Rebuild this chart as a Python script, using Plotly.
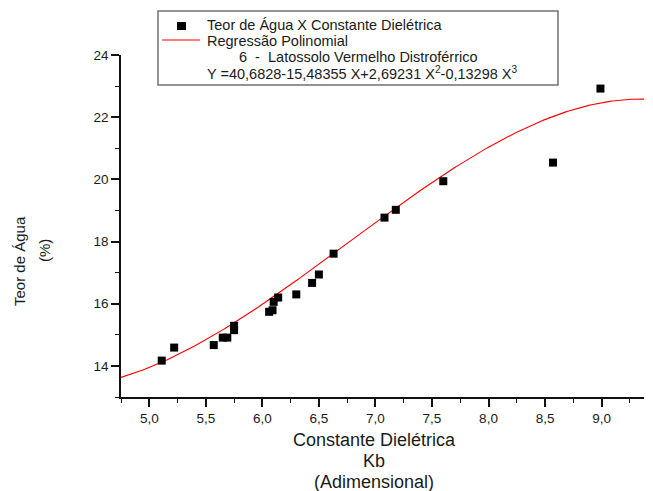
import numpy as np
import plotly.graph_objects as go

# Measured points: dielectric constant Kb vs water content (%)
kb = [5.11, 5.22, 5.57, 5.65, 5.69, 5.75, 5.75, 6.06, 6.09, 6.10, 6.14,
      6.30, 6.44, 6.50, 6.63, 7.08, 7.18, 7.60, 8.57, 8.99]
teor = [14.17, 14.59, 14.67, 14.91, 14.91, 15.15, 15.29, 15.74, 15.79, 16.06, 16.20,
        16.30, 16.67, 16.94, 17.61, 18.77, 19.02, 19.94, 20.54, 22.92]

# Polynomial regression coefficients given in the chart (c0 + c1 X + c2 X^2 + c3 X^3)
coef = [40.6828, -15.48355, 2.69231, -0.13298]
fit_range = [4.75, 9.375]

x_range = [4.75, 9.375]
y_range = [13, 24]
x_ticks = [5.0, 5.5, 6.0, 6.5, 7.0, 7.5, 8.0, 8.5, 9.0]
y_ticks = [14, 16, 18, 20, 22, 24]

xf = np.linspace(fit_range[0], fit_range[1], 200)
yf = sum(c * xf ** i for i, c in enumerate(coef))

W, H = 653, 491
L, R, T, B = 121, 644, 55, 397


def px(x):
    return (x - L) / (R - L)


def py(y):
    return (B - y) / (B - T)


FONT = "Liberation Sans, Arial, sans-serif"
TXT = "#1a1a1a"

fig = go.Figure()
fig.add_trace(go.Scatter(x=xf, y=yf, mode="lines",
                         line=dict(color="#ff0000", width=1.1),
                         name="Regressão Polinomial", showlegend=False))
fig.add_trace(go.Scatter(x=kb, y=teor, mode="markers",
                         marker=dict(symbol="square", size=8, color="black",
                                     line=dict(width=0)),
                         name="Teor de Água X Constante Dielétrica", showlegend=False))

axis_common = dict(showgrid=False, zeroline=False, showline=True, linecolor="#111",
                   linewidth=1.6, ticks="outside", ticklen=8, tickwidth=1.6,
                   tickcolor="#111", tickfont=dict(family=FONT, size=13.5, color=TXT),
                   mirror=False)

fig.update_xaxes(range=x_range, tickvals=x_ticks, tickformat=".1f",
                 minor=dict(ticks="outside", ticklen=4, tickwidth=1.4,
                            tickcolor="#111", dtick=0.25, tick0=4.75),
                 **axis_common)
fig.update_yaxes(range=y_range, tickvals=y_ticks, tickformat="d",
                 minor=dict(ticks="outside", ticklen=4, tickwidth=1.4,
                            tickcolor="#111", dtick=1, tick0=13),
                 **axis_common)

annotations = []
# x-axis title lines
for text, yy in [("Constante Dielétrica", 440), ("Kb", 461), ("(Adimensional)", 482)]:
    annotations.append(dict(text=text, x=px(374), y=py(yy), xref="paper", yref="paper",
                            xanchor="center", yanchor="middle", showarrow=False,
                            font=dict(family=FONT, size=18, color=TXT)))
# y-axis title lines
annotations.append(dict(text="Teor de Água", x=px(19), y=py(261), xref="paper", yref="paper",
                        xanchor="center", yanchor="middle", showarrow=False, textangle=-90,
                        font=dict(family=FONT, size=15, color=TXT)))
annotations.append(dict(text="(%)", x=px(44), y=py(251), xref="paper", yref="paper",
                        xanchor="center", yanchor="middle", showarrow=False, textangle=-90,
                        font=dict(family=FONT, size=15, color=TXT)))

# legend text
NB = "\u00a0"
legend_lines = [
    ("Teor de Água X Constante Dielétrica", 205, 25.5),
    ("Regressão Polinomial", 205, 41),
    ("6" + NB * 2 + "-" + NB * 2 + "Latossolo Vermelho Distroférrico", 237, 57),
    ("Y =40,6828-15,48355 X+2,69231 X<sup>2</sup>-0,13298 X<sup>3</sup>", 205, 72.5),
]
for text, xx, yy in legend_lines:
    annotations.append(dict(text=text, x=px(xx), y=py(yy), xref="paper", yref="paper",
                            xanchor="left", yanchor="middle", showarrow=False,
                            font=dict(family=FONT, size=14.5, color=TXT)))

shapes = [
    dict(type="rect", xref="paper", yref="paper", x0=px(158), x1=px(558),
         y0=py(85), y1=py(11), line=dict(color="#707070", width=1.5),
         fillcolor="rgba(0,0,0,0)"),
    dict(type="rect", xref="paper", yref="paper", x0=px(177), x1=px(186),
         y0=py(30), y1=py(22), line=dict(width=0), fillcolor="black"),
    dict(type="line", xref="paper", yref="paper", x0=px(162), x1=px(200),
         y0=py(40), y1=py(40), line=dict(color="#ff0000", width=1.1)),
]

fig.update_layout(width=W, height=H, margin=dict(l=L, r=W - R, t=T, b=H - B, pad=0),
                  paper_bgcolor="white", plot_bgcolor="white", separators=",.",
                  showlegend=False, annotations=annotations, shapes=shapes,
                  font=dict(family=FONT, color=TXT))

fig.write_html("out.html")
